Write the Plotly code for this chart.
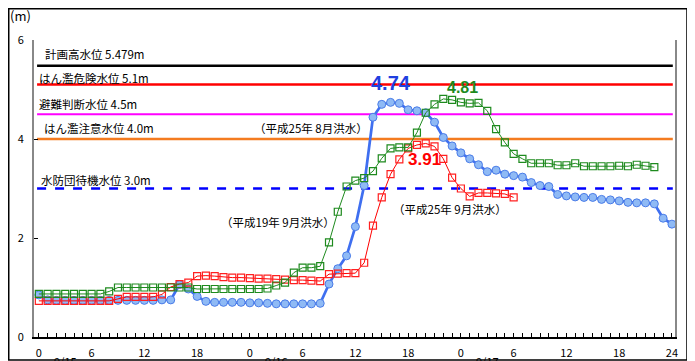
import plotly.graph_objects as go

# ---- data (hourly, starting 9/15 0:00) ----
flood_h25_aug = [0.85, 0.75, 0.74, 0.74, 0.74, 0.74, 0.74, 0.74, 0.74, 0.74,
                 0.74, 0.74, 0.74, 0.74, 0.75, 0.75, 1.06, 0.97, 0.82, 0.72,
                 0.70, 0.70, 0.70, 0.70, 0.69, 0.69, 0.68, 0.67, 0.67, 0.67,
                 0.67, 0.67, 0.68, 1.07, 1.38, 1.64, 2.23, 3.06, 4.44, 4.70,
                 4.74, 4.72, 4.59, 4.57, 4.53, 4.34, 4.03, 3.86, 3.72, 3.60,
                 3.48, 3.34, 3.37, 3.29, 3.26, 3.23, 3.12, 3.06, 3.04, 2.88,
                 2.85, 2.83, 2.82, 2.82, 2.78, 2.77, 2.75, 2.72, 2.71, 2.71,
                 2.69, 2.40, 2.28]
flood_h19_sep = [0.87, 0.87, 0.87, 0.87, 0.87, 0.87, 0.87, 0.87, 0.92, 1.00,
                 1.00, 1.00, 1.00, 1.00, 1.00, 1.00, 1.00, 1.00, 0.97, 0.97,
                 0.97, 0.97, 0.97, 0.97, 0.97, 0.97, 0.98, 1.04, 1.10, 1.30,
                 1.40, 1.40, 1.43, 1.91, 2.53, 3.04, 3.16, 3.21, 3.35, 3.61,
                 3.81, 3.83, 3.83, 4.13, 4.53, 4.70, 4.81, 4.79, 4.74, 4.72,
                 4.73, 4.57, 4.20, 3.93, 3.70, 3.60, 3.51, 3.51, 3.51, 3.47,
                 3.47, 3.51, 3.45, 3.45, 3.45, 3.45, 3.46, 3.45, 3.48, 3.46,
                 3.43]
flood_h25_sep = [0.73, 0.73, 0.73, 0.73, 0.73, 0.73, 0.73, 0.73, 0.73, 0.77,
                 0.81, 0.81, 0.81, 0.81, 0.86, 1.01, 1.07, 1.10, 1.23, 1.24,
                 1.23, 1.21, 1.20, 1.20, 1.19, 1.18, 1.18, 1.17, 1.16, 1.15,
                 1.15, 1.14, 1.13, 1.27, 1.28, 1.29, 1.29, 1.50, 2.25, 2.82,
                 3.29, 3.59, 3.81, 3.88, 3.91, 3.85, 3.60, 3.22, 3.00, 2.84,
                 2.91, 2.91, 2.90, 2.89, 2.82]

tick_hours = [0, 6, 12, 18, 24, 30, 36, 42, 48, 54, 60, 66, 72]
tick_labels = ["0", "6", "12", "18", "0", "6", "12", "18", "0", "6", "12", "18", "24"]
date_labels = ["9/15", "9/16", "9/17"]
date_hours = [3, 27, 51]

level_values = [5.479, 5.1, 4.5, 4.0, 3.0]
level_texts = ["計画高水位 5.479m", "はん濫危険水位 5.1m", "避難判断水位 4.5m",
               "はん濫注意水位 4.0m", "水防団待機水位 3.0m"]
level_colors = ["#000000", "#ff0000", "#ff00ff", "#f47b20", "#0000ff"]
level_widths = [2.5, 2.5, 2, 2.5, 2.5]
level_dash = ["solid", "solid", "solid", "solid", "dash"]
level_label_x = [0.5, -0.2, -0.2, 0.4, 0.05]
level_label_y = [5.72, 5.24, 4.71, 4.22, 3.17]

FONT = "Noto Sans CJK JP, Noto Sans, sans-serif"

fig = go.Figure()

fig.add_trace(go.Scatter(
    x=list(range(len(flood_h25_aug))), y=flood_h25_aug, mode="lines+markers",
    line=dict(color="#3f6ff0", width=2.7),
    marker=dict(symbol="circle", size=8, color="#8fbaf5",
                line=dict(color="#4a7ce8", width=1)),
    name="平成25年8月洪水", showlegend=False))
fig.add_trace(go.Scatter(
    x=list(range(len(flood_h25_sep))), y=flood_h25_sep, mode="lines+markers",
    line=dict(color="#ff0000", width=1),
    marker=dict(symbol="square-open", size=7, color="#ff2020",
                line=dict(width=1.2)),
    name="平成25年9月洪水", showlegend=False))
fig.add_trace(go.Scatter(
    x=list(range(len(flood_h19_sep))), y=flood_h19_sep, mode="lines+markers",
    line=dict(color="#1e8a1e", width=1),
    marker=dict(symbol="square-open", size=7, color="#1e8a1e",
                line=dict(width=1.2)),
    name="平成19年9月洪水", showlegend=False))

shapes = []
annotations = []
for v, t, c, w, d, lx, ly in zip(level_values, level_texts, level_colors,
                                 level_widths, level_dash, level_label_x, level_label_y):
    shapes.append(dict(type="line", xref="x", yref="y", x0=-0.2, x1=72.1, y0=v, y1=v,
                       line=dict(color=c, width=w, dash=d), layer="below"))
    annotations.append(dict(x=lx, y=ly, xref="x", yref="y", text=t, showarrow=False,
                            xanchor="left", yanchor="middle",
                            font=dict(family=FONT, size=11.5, color="#000000")))

# peak labels
annotations += [
    dict(x=40, y=5.13, xref="x", yref="y", text="<b>4.74</b>", showarrow=False,
         font=dict(family="Liberation Sans, Arial", size=20, color="#2040e0")),
    dict(x=48.2, y=5.05, xref="x", yref="y", text="<b>4.81</b>", showarrow=False,
         font=dict(family="Liberation Sans, Arial", size=16, color="#1e8a1e")),
    dict(x=43.85, y=3.58, xref="x", yref="y", text="<b>3.91</b>", showarrow=False,
         font=dict(family="Liberation Sans, Arial", size=17, color="#ff0000")),
]
# series labels
annotations += [
    dict(x=30.9, y=4.22, xref="x", yref="y", text="（平成25年 8月洪水）", showarrow=False,
         font=dict(family=FONT, size=11.5, color="#000000")),
    dict(x=27.2, y=2.32, xref="x", yref="y", text="（平成19年 9月洪水）", showarrow=False,
         font=dict(family=FONT, size=11.5, color="#000000")),
    dict(x=46.8, y=2.59, xref="x", yref="y", text="（平成25年 9月洪水）", showarrow=False,
         font=dict(family=FONT, size=11.5, color="#000000")),
]
# date labels (partly below the frame, as in the original)
for dh, dl in zip(date_hours, date_labels):
    annotations.append(dict(x=dh, y=-0.046, xref="x", yref="paper", text=dl,
                            showarrow=False, yanchor="top",
                            font=dict(family=FONT, size=11, color="#000000")))
# unit
annotations.append(dict(x=-0.041, y=1.084, xref="paper", yref="paper", text="(m)",
                        showarrow=False, xanchor="left", yanchor="middle",
                        font=dict(family=FONT, size=13, color="#000000")))

# outer frame
shapes.append(dict(type="rect", xref="paper", yref="paper",
                   x0=-0.0394, x1=1.0187, y0=-0.0774, y1=1.1052,
                   line=dict(color="#000000", width=1.5), fillcolor="rgba(0,0,0,0)"))

# the page body adds an 8px offset, so the figure is 8px smaller and margins shifted
fig.update_layout(
    width=687, height=353,
    margin=dict(l=26, r=20, t=32, b=24, autoexpand=False),
    paper_bgcolor="white", plot_bgcolor="white",
    font=dict(family=FONT, size=11, color="#000000"),
    shapes=shapes, annotations=annotations, showlegend=False,
    xaxis=dict(range=[-0.55, 72.35], tickvals=tick_hours, ticktext=tick_labels,
               ticks="inside", ticklen=4, tickcolor="#000000",
               minor=dict(dtick=1, tick0=0, ticks="inside", ticklen=4, tickcolor="#000000"),
               showline=True, linecolor="#000000", linewidth=1.5, automargin=False,
               showgrid=False, zeroline=False, ticklabelstandoff=5,
               tickfont=dict(family=FONT, size=11)),
    yaxis=dict(range=[0, 6], tickvals=[0, 2, 4, 6], ticks="inside", ticklen=4,
               tickcolor="#000000", showline=True, linecolor="#888888", linewidth=2,
               mirror=True, showgrid=False, zeroline=False, ticklabelstandoff=6,
               automargin=False, tickfont=dict(family=FONT, size=11)),
)

fig.write_html("out.html")
